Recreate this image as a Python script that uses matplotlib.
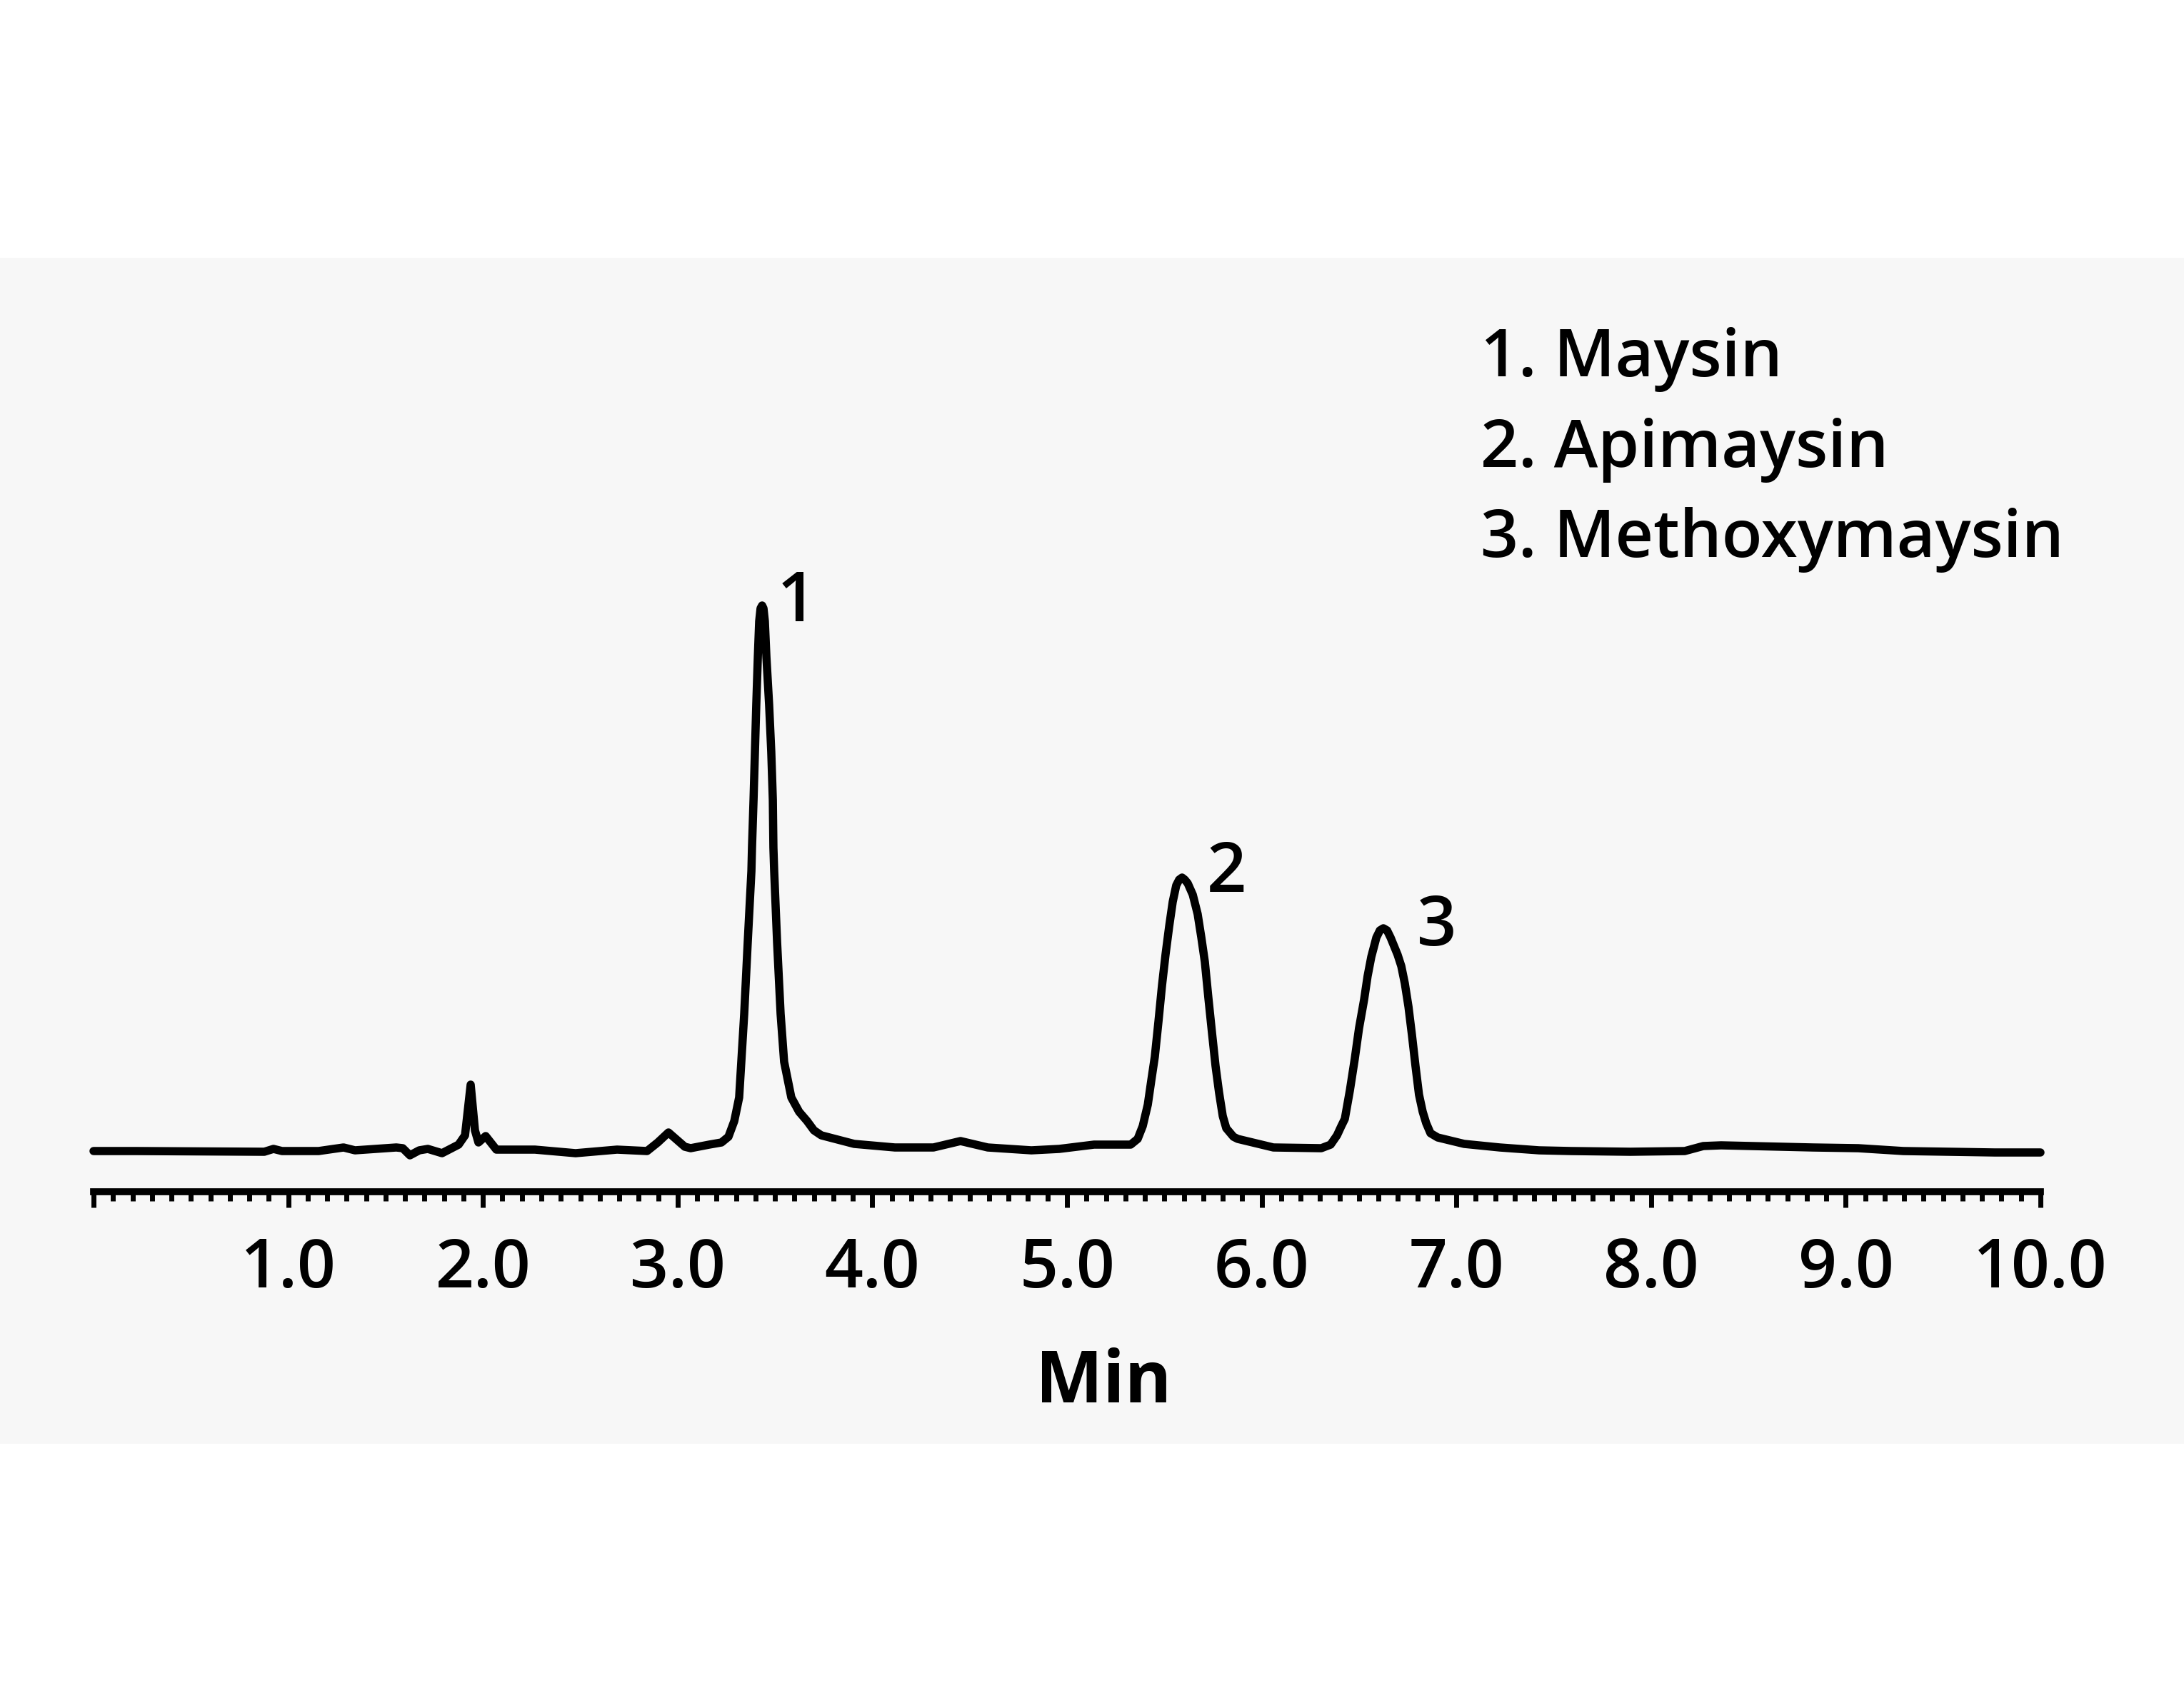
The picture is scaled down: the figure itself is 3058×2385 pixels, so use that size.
"""Chromatogram of maysin compounds, redrawn with matplotlib."""

import matplotlib

matplotlib.use("Agg")

import matplotlib.pyplot as plt
import numpy as np
from matplotlib.patches import Rectangle

# retention time (min) and detector signal (arbitrary units)
time_min = [
    0.000, 0.220, 0.877, 0.924, 0.968, 1.156, 1.284, 1.343, 1.555, 1.588,
    1.625, 1.673, 1.717, 1.790, 1.875, 1.908, 1.937, 1.959, 1.977, 2.014,
    2.069, 2.267, 2.476, 2.689, 2.843, 2.898, 2.953, 3.037, 3.067, 3.162,
    3.225, 3.261, 3.291, 3.316, 3.327, 3.342, 3.360, 3.379, 3.382, 3.390,
    3.397, 3.404, 3.412, 3.419, 3.426, 3.434, 3.441, 3.448, 3.456, 3.470,
    3.481, 3.489, 3.492, 3.496, 3.511, 3.529, 3.547, 3.584,
    3.624, 3.665, 3.700, 3.738, 3.907, 4.116, 4.314, 4.453, 4.593, 4.817,
    4.960, 5.139, 5.327, 5.363, 5.389, 5.415, 5.433, 5.451, 5.470, 5.488,
    5.506, 5.525, 5.543, 5.561, 5.576, 5.591, 5.605, 5.620, 5.646, 5.671,
    5.690, 5.708, 5.726, 5.745, 5.763, 5.781, 5.800, 5.818, 5.855, 5.877,
    6.060, 6.306, 6.354, 6.387, 6.409, 6.427, 6.453, 6.478, 6.500, 6.526,
    6.544, 6.563, 6.589, 6.607, 6.625, 6.644, 6.662, 6.698, 6.717, 6.735,
    6.754, 6.772, 6.790, 6.808, 6.827, 6.845, 6.867, 6.904, 7.040, 7.223,
    7.425, 7.590, 7.894, 8.173, 8.268, 8.360, 8.830, 9.064, 9.296, 9.765,
    10.000,
]
signal = [
    5.7, 5.7, 5.6, 6.0, 5.7, 5.7, 6.2, 5.8, 6.2, 6.1,
    5.1, 5.8, 6.0, 5.4, 6.6, 7.9, 15.0, 8.6, 6.9, 7.8,
    5.9, 5.9, 5.4, 5.9, 5.7, 6.9, 8.3, 6.3, 6.1, 6.6,
    6.9, 7.7, 9.9, 13.2, 18.2, 24.9, 34.9, 44.9, 48.2, 54.9,
    61.6, 68.2, 74.9, 79.9, 81.7, 82.1, 81.7, 79.9, 74.9, 68.2,
    61.6, 54.9, 48.2, 44.9, 34.9, 24.9, 18.2, 13.2,
    11.2, 9.9, 8.6, 7.9, 6.7, 6.2, 6.2, 7.1, 6.2, 5.8,
    6.0, 6.6, 6.6, 7.4, 9.2, 12.2, 15.6, 18.9, 23.9, 28.9,
    33.2, 37.2, 40.6, 42.9, 43.7, 44.0, 43.7, 43.2, 41.6, 38.9,
    35.6, 32.2, 27.2, 22.2, 17.6, 13.9, 10.6, 8.9, 7.7, 7.4,
    6.2, 6.1, 6.6, 7.9, 9.2, 10.2, 14.2, 18.6, 22.9, 26.9,
    30.2, 32.9, 35.6, 36.6, 36.9, 36.6, 35.6, 33.2, 31.6, 29.2,
    25.9, 21.9, 17.6, 13.6, 11.2, 9.6, 8.2, 7.6, 6.7, 6.2,
    5.8, 5.7, 5.6, 5.7, 6.4, 6.5, 6.2, 6.1, 5.7, 5.5,
    5.5,
]

peak_numbers = ["1", "2", "3"]
peak_label_times = [3.61, 5.82, 6.90]
peak_label_signal = [82.4, 44.5, 37.0]
compounds = ["Maysin", "Apimaysin", "Methoxymaysin"]

major_ticks = np.arange(0, 11, 1)
major_labels = [""] + [f"{v:.1f}" for v in major_ticks[1:]]
minor_ticks = np.arange(0, 10.05, 0.1)

FONT = ["Open Sans", "DejaVu Sans"]
W, H, DPI = 3058, 2385, 100

fig = plt.figure(figsize=(W / DPI, H / DPI), dpi=DPI)
fig.patch.set_facecolor("white")
# light grey band behind the plot
fig.patches.append(
    Rectangle((0, (H - 2022) / H), 1, (2022 - 361) / H,
              transform=fig.transFigure, facecolor="#f7f7f7", edgecolor="none", zorder=-5)
)

ax = fig.add_axes([131 / W, (H - 1669) / H, (2857 - 131) / W, 1270 / H])
ax.set_zorder(2)
ax.patch.set_visible(False)

ax.plot(time_min, signal, color="black", linewidth=8.3, solid_capstyle="round",
        solid_joinstyle="round", clip_on=False)

for num, tx, ty in zip(peak_numbers, peak_label_times, peak_label_signal):
    ax.text(tx, ty, num, ha="center", va="center", fontsize=70, family=FONT,
            fontweight="semibold", color="black")

ax.set_xlim(0, 10)
ax.set_ylim(0, 127)
for side in ["top", "right", "left"]:
    ax.spines[side].set_visible(False)
ax.spines["bottom"].set_linewidth(7)
ax.set_yticks([])

ax.set_xticks(major_ticks)
ax.set_xticklabels(major_labels, family=FONT, fontsize=68, fontweight="semibold")
ax.set_xticks(minor_ticks, minor=True)
ax.tick_params(axis="x", which="major", direction="out", length=15.5, width=5, pad=29)
ax.tick_params(axis="x", which="minor", direction="out", length=9, width=5)

fig.text(1545 / W, (H - 1964) / H, "Min", ha="center", va="baseline",
         fontsize=72, fontweight="bold", family=FONT)

for i, (num, name) in enumerate(zip(peak_numbers, compounds)):
    fig.text(2073 / W, (H - 527 - i * 126.5) / H, f"{num}. {name}", ha="left",
             va="baseline", fontsize=67, family=FONT, fontweight="semibold")

fig.savefig("out.png", dpi=DPI, facecolor=fig.get_facecolor())
plt.close(fig)
